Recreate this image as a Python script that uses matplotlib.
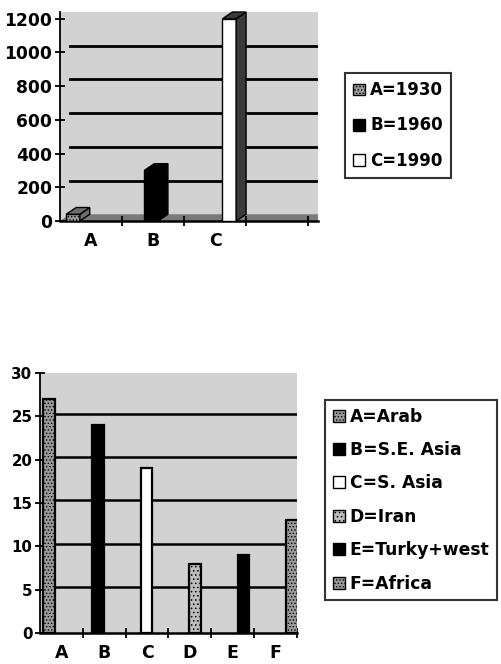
import matplotlib.pyplot as plt
from matplotlib.patches import Polygon, Patch
import numpy as np

plt.rcParams['font.family'] = ['DejaVu Sans']
plt.rcParams['font.weight'] = 'bold'
plt.rcParams['hatch.linewidth'] = 0.6

# top chart: one bar per period
years = ['A=1930', 'B=1960', 'C=1990']
year_cats = ['A', 'B', 'C']
year_vals = [40, 300, 1200]
year_ticks = [0, 200, 400, 600, 800, 1000, 1200]

# bottom chart: one bar per region
regions = ['A=Arab', 'B=S.E. Asia', 'C=S. Asia', 'D=Iran', 'E=Turky+west', 'F=Africa']
region_cats = ['A', 'B', 'C', 'D', 'E', 'F']
region_vals = [27, 24, 19, 8, 9, 13]
region_ticks = [0, 5, 10, 15, 20, 25, 30]

bg = '#d2d2d2'
top_faces = ['#9a9a9a', 'black', 'white']
top_sides = ['#6e6e6e', 'black', '#3a3a3a']
top_hatch = ['.....', None, None]
bot_faces = ['#9a9a9a', 'black', 'white', '#bdbdbd', 'black', '#9a9a9a']
bot_hatch = ['.....', None, None, '....', None, '.....']

fig = plt.figure(figsize=(5.01, 6.64), dpi=100)


def style_axes(ax, ncat, ticks, fs, xfs):
    ax.set_facecolor(bg)
    for s in ['top', 'right']:
        ax.spines[s].set_visible(False)
    ax.spines['left'].set_linewidth(1.3)
    ax.spines['bottom'].set_linewidth(1.8)
    ax.set_yticks(ticks)
    ax.set_xticks(np.arange(ncat))
    ax.set_xticks(np.arange(ncat) + 0.5, minor=True)
    ax.tick_params(axis='y', direction='inout', length=7, width=1.3, labelsize=fs, pad=2)
    ax.tick_params(axis='x', which='major', length=0, labelsize=xfs, pad=8)
    ax.tick_params(axis='x', which='minor', direction='inout', length=7, width=1.3)


# ---- top chart (3D-ish bars) ----
ax1 = fig.add_axes([60 / 501, 1 - 221 / 664, 258 / 501, 209 / 664])
ax1.set_xlim(-0.5, 3.66)
ax1.set_ylim(0, 1240)
style_axes(ax1, 4, year_ticks, 12.3, 12.5)
ax1.set_xticklabels(year_cats + [''])

dx, dy = 0.16, 40
for v in year_ticks[1:-1]:
    ax1.plot([-0.5 + dx, 3.66], [v + dy, v + dy], color='black', lw=2, zorder=1)
# floor band
ax1.add_patch(Polygon([(-0.5, 0), (-0.5 + dx, dy), (3.66, dy), (3.66, 0)],
                      closed=True, fc='#7a7a7a', ec='none', zorder=1))

w = 0.22
for i, v in enumerate(year_vals):
    x0 = i + (i - 1) * 0.26 - 0.03 - w / 2
    ax1.bar(x0, v, width=w, align='edge', color=top_faces[i], edgecolor='black',
            lw=1, hatch=top_hatch[i], zorder=3)
    side = [(x0 + w, 0), (x0 + w + dx, dy), (x0 + w + dx, v + dy), (x0 + w, v)]
    top = [(x0, v), (x0 + dx, v + dy), (x0 + w + dx, v + dy), (x0 + w, v)]
    ax1.add_patch(Polygon(side, closed=True, fc=top_sides[i], ec='black', lw=1, zorder=3))
    ax1.add_patch(Polygon(top, closed=True, fc=top_sides[i], ec='black', lw=1, zorder=3,
                          clip_on=False))

h1 = [Patch(fc=top_faces[i], ec='black', hatch=top_hatch[i]) for i in range(3)]
leg1 = fig.legend(h1, years, loc='upper left', bbox_to_anchor=(345 / 501, 1 - 73 / 664),
                  fontsize=12, frameon=True, fancybox=False, handlelength=0.7,
                  handleheight=0.7, handletextpad=0.3, labelspacing=1.03,
                  borderpad=0.5, borderaxespad=0)
leg1.get_frame().set_edgecolor('black')
leg1.get_frame().set_linewidth(1.5)

# ---- bottom chart (column bars) ----
ax2 = fig.add_axes([40 / 501, 1 - 633 / 664, 257 / 501, 260 / 664])
ax2.set_xlim(-0.5, 5.5)
ax2.set_ylim(0, 30)
style_axes(ax2, 6, region_ticks, 10.8, 12.5)
ax2.set_xticklabels(region_cats)

for v in region_ticks[1:-1]:
    ax2.plot([-0.4, 5.5], [v + 0.3, v + 0.3], color='black', lw=1.8, zorder=1)

bw = 0.27
for i, v in enumerate(region_vals):
    xc = i + (i - 2.5) * 0.135 + 0.05
    ax2.bar(xc, v, width=bw, color=bot_faces[i], edgecolor='black', lw=1.6,
            hatch=bot_hatch[i], zorder=3)

h2 = [Patch(fc=bot_faces[i], ec='black', hatch=bot_hatch[i]) for i in range(6)]
leg2 = fig.legend(h2, regions, loc='upper left', bbox_to_anchor=(325 / 501, 1 - 400 / 664),
                  fontsize=12.3, frameon=True, fancybox=False, handlelength=0.7,
                  handleheight=0.7, handletextpad=0.3, labelspacing=0.9,
                  borderpad=0.45, borderaxespad=0)
leg2.get_frame().set_edgecolor('black')
leg2.get_frame().set_linewidth(1.5)

fig.savefig('out.png', dpi=100, facecolor='white')
